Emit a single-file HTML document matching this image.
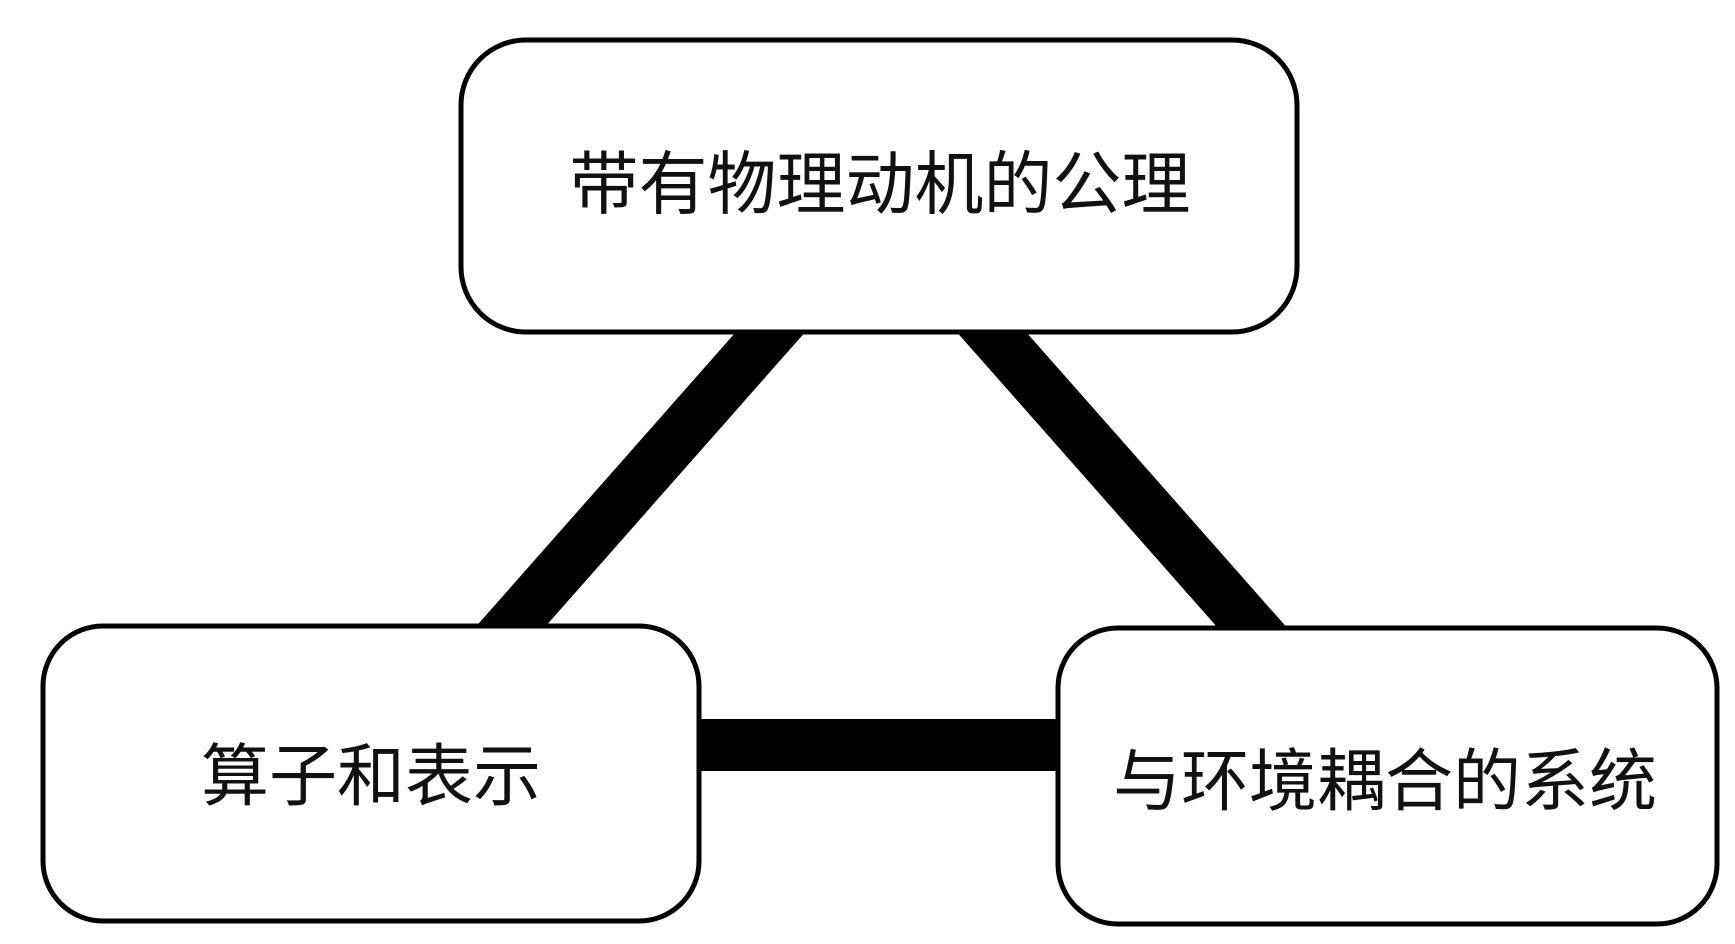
<!DOCTYPE html>
<html><head><meta charset="utf-8"><style>
body{margin:0;background:#fff;}
svg{display:block}
text{font-family:"Liberation Sans","Noto Sans CJK SC",sans-serif;fill:#111;}
</style></head><body>
<svg width="1735" height="944" viewBox="0 0 1735 944">
<rect width="1735" height="944" fill="#fff"/>
<line x1="790" y1="310" x2="490" y2="650" stroke="#000" stroke-width="52"/>
<line x1="972" y1="310" x2="1272" y2="650" stroke="#000" stroke-width="52"/>
<line x1="690" y1="745" x2="1065" y2="745" stroke="#000" stroke-width="52"/>
<rect x="461" y="40" width="836" height="292" rx="65" fill="#fff" stroke="#000" stroke-width="5"/>
<rect x="43" y="626" width="656" height="295" rx="60" fill="#fff" stroke="#000" stroke-width="5"/>
<rect x="1058" y="628" width="659" height="296" rx="60" fill="#fff" stroke="#000" stroke-width="5"/>
<text x="880" y="208" font-size="69" text-anchor="middle">带有物理动机的公理</text>
<text x="371" y="800" font-size="68" text-anchor="middle">算子和表示</text>
<text x="1385" y="805" font-size="68" text-anchor="middle">与环境耦合的系统</text>
</svg>
</body></html>
